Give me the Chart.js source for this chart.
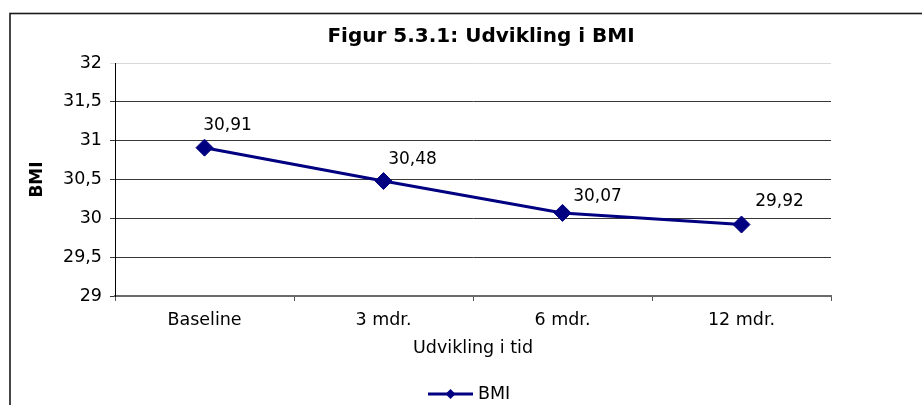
<!DOCTYPE html>
<html>
<head>
<meta charset="utf-8">
<script src="https://cdn.jsdelivr.net/npm/chart.js@4/dist/chart.umd.min.js"></script>
<style>
  html, body { margin: 0; padding: 0; background: #fff; }
  #wrap { width: 922px; height: 405px; overflow: hidden; }
</style>
</head>
<body>
<div id="wrap"><canvas id="c" width="922" height="405"></canvas></div>
<script>
// Chart data
const categories = ['Baseline', '3 mdr.', '6 mdr.', '12 mdr.'];
const bmiValues = [30.91, 30.48, 30.07, 29.92];
const yTicks = [29, 29.5, 30, 30.5, 31, 31.5, 32];
const seriesName = 'BMI';
const chartTitle = 'Figur 5.3.1: Udvikling i BMI';
const xTitle = 'Udvikling i tid';
const yTitle = 'BMI';

// Layout constants
const FONT = '"DejaVu Sans", Verdana, sans-serif';
const NAVY = '#000080';
const TITLE_CENTER_X = 481;
const LABEL_OFFSETS = [[23, -22], [29, -21], [35, -16], [38, -23]];
const LEGEND = { lineStart: 428, lineEnd: 473, y: 394, textX: 478 };

const fmt = v => String(v).replace('.', ',');

// Outer frame of the chart object (left and top edges lie inside the canvas)
const framePlugin = {
  id: 'frame',
  beforeDraw(chart) {
    const ctx = chart.ctx;
    ctx.save();
    ctx.strokeStyle = '#1a1a1a';
    ctx.lineWidth = 1.6;
    ctx.strokeRect(10, 13.5, 2000, 2000);
    ctx.restore();
  }
};

// Centre the title over the whole chart object rather than the padded box
const titleShift = {
  id: 'titleShift',
  afterLayout(chart) {
    const t = chart.titleBlock;
    if (!t) return;
    const dx = TITLE_CENTER_X - (t.left + t.right) / 2;
    t.left += dx;
    t.right += dx;
  }
};

// Value labels next to each point
const valueLabels = {
  id: 'valueLabels',
  afterDatasetsDraw(chart) {
    const ctx = chart.ctx;
    const meta = chart.getDatasetMeta(0);
    const data = chart.data.datasets[0].data;
    ctx.save();
    ctx.font = '17px ' + FONT;
    ctx.fillStyle = '#000';
    ctx.textAlign = 'center';
    ctx.textBaseline = 'middle';
    meta.data.forEach((pt, i) => {
      const [dx, dy] = LABEL_OFFSETS[i];
      ctx.fillText(fmt(data[i].toFixed(2)), pt.x + dx, pt.y + dy);
    });
    ctx.restore();
  }
};

// Legend: line with a diamond marker, followed by the series name
const lineLegend = {
  id: 'lineLegend',
  afterDraw(chart) {
    const ds = chart.data.datasets[0];
    const ctx = chart.ctx;
    ctx.save();
    ctx.strokeStyle = ds.borderColor;
    ctx.lineWidth = 3;
    ctx.beginPath();
    ctx.moveTo(LEGEND.lineStart, LEGEND.y);
    ctx.lineTo(LEGEND.lineEnd, LEGEND.y);
    ctx.stroke();
    const cx = (LEGEND.lineStart + LEGEND.lineEnd) / 2;
    const r = 5;
    ctx.fillStyle = ds.pointBackgroundColor;
    ctx.beginPath();
    ctx.moveTo(cx, LEGEND.y - r);
    ctx.lineTo(cx + r, LEGEND.y);
    ctx.lineTo(cx, LEGEND.y + r);
    ctx.lineTo(cx - r, LEGEND.y);
    ctx.closePath();
    ctx.fill();
    ctx.fillStyle = '#000';
    ctx.font = '17.5px ' + FONT;
    ctx.textAlign = 'left';
    ctx.textBaseline = 'middle';
    ctx.fillText(ds.label, LEGEND.textX, LEGEND.y);
    ctx.restore();
  }
};

new Chart(document.getElementById('c'), {
  type: 'line',
  data: {
    labels: categories,
    datasets: [{
      label: seriesName,
      data: bmiValues,
      borderColor: NAVY,
      backgroundColor: NAVY,
      borderWidth: 3,
      pointStyle: 'rectRot',
      pointRadius: 8.5,
      pointBackgroundColor: NAVY,
      pointBorderColor: NAVY,
      pointBorderWidth: 1,
      tension: 0,
      fill: false
    }]
  },
  options: {
    responsive: false,
    animation: false,
    devicePixelRatio: 1,
    layout: { padding: { left: 10, right: 91, top: 0, bottom: 0 } },
    plugins: {
      legend: { display: false },
      tooltip: { enabled: false },
      title: {
        display: true,
        text: chartTitle,
        color: '#000',
        font: { family: FONT, size: 20, weight: 'bold', lineHeight: 1.2 },
        padding: { top: 25, bottom: 14 }
      }
    },
    scales: {
      x: {
        offset: true,
        afterFit: s => { s.height = 109; },
        border: { display: true, color: '#6a6a6a', width: 2 },
        grid: {
          offset: true,
          drawOnChartArea: false,
          drawTicks: true,
          tickLength: 5,
          color: '#555'
        },
        ticks: {
          color: '#000',
          padding: 9,
          maxRotation: 0,
          font: { family: FONT, size: 17.5 }
        },
        title: {
          display: true,
          text: xTitle,
          color: '#000',
          padding: 46.5,
          font: { family: FONT, size: 17.5, lineHeight: 1.2 }
        }
      },
      y: {
        min: 29,
        max: 32,
        afterFit: s => { s.width = 105; },
        afterBuildTicks: s => { s.ticks = yTicks.map(v => ({ value: v })); },
        border: { display: true, color: '#000', width: 1 },
        grid: {
          drawTicks: true,
          tickLength: 5,
          color: c => (c.tick && c.tick.value === 32) ? '#d8d8d8' : '#383838',
          lineWidth: 1
        },
        ticks: {
          color: '#000',
          padding: 8,
          font: { family: FONT, size: 17.5 },
          callback: v => fmt(v)
        },
        title: {
          display: true,
          text: yTitle,
          color: '#000',
          padding: 17.5,
          font: { family: FONT, size: 17, weight: 'bold', lineHeight: 1.2 }
        }
      }
    }
  },
  plugins: [framePlugin, titleShift, valueLabels, lineLegend]
});
</script>
</body>
</html>
